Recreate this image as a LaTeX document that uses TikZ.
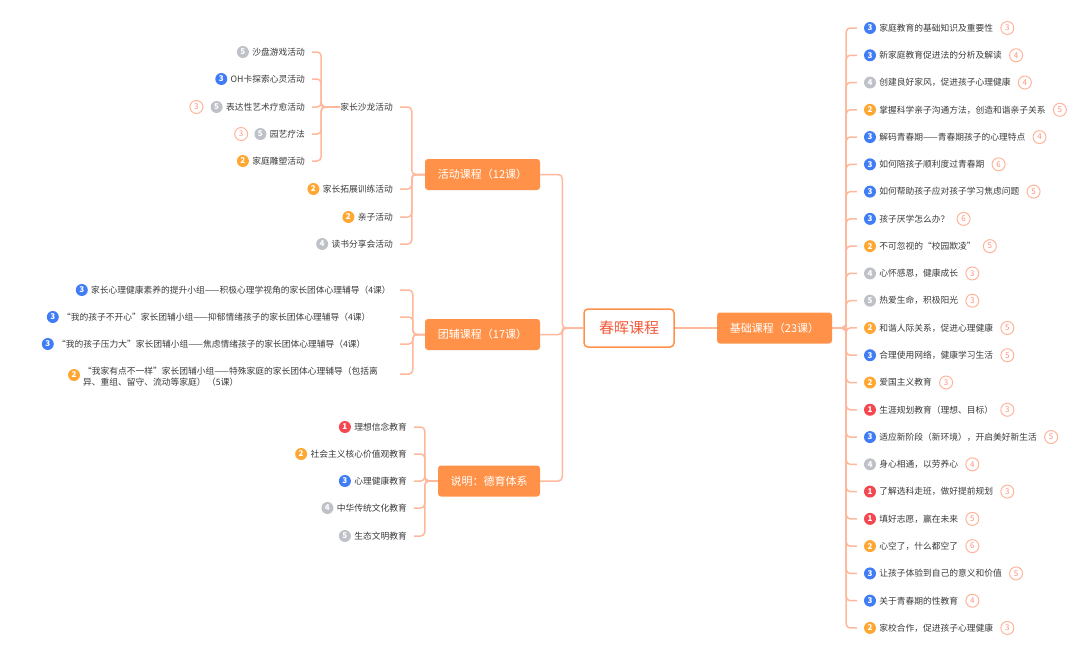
\documentclass[tikz,border=0pt]{standalone}
\usepackage{fontspec}
\setmainfont{Noto Sans CJK SC}
\usetikzlibrary{positioning}

\definecolor{mapline}{HTML}{FFB89C}
\definecolor{mapbox}{HTML}{FF9248}
\definecolor{maproot}{HTML}{F25A3C}
\definecolor{maptext}{HTML}{3A3A3A}
\definecolor{cntline}{HTML}{FFB49A}
\definecolor{bc1}{HTML}{F5474F}
\definecolor{bc2}{HTML}{FFA733}
\definecolor{bc3}{HTML}{3F7CF6}
\definecolor{bc4}{HTML}{BEC2C8}
\definecolor{bc5}{HTML}{BEC2C8}

\tikzset{
  link/.style={draw=mapline, line width=1.5pt, rounded corners=4pt},
  tick/.style={link, shorten >=7pt},
  rootbox/.style={draw=mapbox, line width=1.5pt, fill=white, rounded corners=4pt,
    minimum width=90pt, minimum height=38pt, text=maproot, font=\fontsize{15}{15}\selectfont},
  topic/.style={fill=mapbox, rounded corners=3pt, minimum height=31pt, minimum width=115pt,
    text=white, font=\fontsize{11}{11}\selectfont, inner xsep=0pt},
  leaf/.style={inner sep=0pt, text=maptext, font=\fontsize{8.75}{11}\selectfont},
  badge/.style={circle, fill=bc#1, text=white, inner sep=0pt, minimum size=12pt,
    font=\fontsize{8}{8}\selectfont\bfseries},
  cnt/.style={circle, draw=cntline, line width=1pt, text=cntline!80!red, inner sep=0pt,
    minimum size=13pt, font=\fontsize{8}{8}\selectfont},
}

\begin{document}
\begin{tikzpicture}[x=1pt, y=-1pt]
	\useasboundingbox (0,0) rectangle (1080,648);

	% Root and main topics
	\node [rootbox] 				(root) 	at (629,328) 	{春晖课程};
	\node [topic] 					(jc) 	at (774.5,328) 	{基础课程（23课）};
	\node [topic] 					(act) 	at (482.5,174.5) {活动课程（12课）};
	\node [topic] 					(grp) 	at (482.5,334.5) {团辅课程（17课）};
	\node [topic, minimum width=102pt] (moral) at (489,481) {说明：德育体系};

	\draw [link] (root.east) -- (jc.west);
	\draw [link] (root.west) -- ++(-21,0) |- (act.east);
	\draw [link] (root.west) -- ++(-21,0) |- (grp.east);
	\draw [link] (root.west) -- ++(-21,0) |- (moral.east);

	% 基础课程
	\foreach \n/\t/\c [count=\i] in {
		3/家庭教育的基础知识及重要性/3,
		3/新家庭教育促进法的分析及解读/4,
		4/创建良好家风，促进孩子心理健康/4,
		2/掌握科学亲子沟通方法，创造和谐亲子关系/5,
		3/解码青春期——青春期孩子的心理特点/4,
		3/如何陪孩子顺利度过青春期/6,
		3/如何帮助孩子应对孩子学习焦虑问题/5,
		3/孩子厌学怎么办？/6,
		2/不可忽视的“校园欺凌”/5,
		4/心怀感恩，健康成长/3,
		5/热爱生命，积极阳光/3,
		2/和谐人际关系，促进心理健康/5,
		3/合理使用网络，健康学习生活/5,
		2/爱国主义教育/3,
		1/生涯规划教育（理想、目标）/3,
		3/适应新阶段（新环境），开启美好新生活/5,
		4/身心相通，以劳养心/4,
		1/了解选科走班，做好提前规划/3,
		1/填好志愿，赢在未来/5,
		2/心空了，什么都空了/6,
		3/让孩子体验到自己的意义和价值/5,
		3/关于青春期的性教育/4,
		2/家校合作，促进孩子心理健康/3} {
		\node [badge=\n] 				(r\i) 	at (870,{28+27.27*(\i-1)}) {\n};
		\node [leaf, right=3pt of r\i] 	(rt\i) 	{\t};
		\node [cnt, right=7pt of rt\i] 	(rc\i) 	{\c};
		\draw [tick] (jc.east) -- ++(14,0) |- (r\i.west);
	}

	% 活动课程
	\node [leaf, anchor=east] (salon) 	at (393,107) {家长沙龙活动};
	\node [leaf, anchor=east] (expand) 	at (393,189) {家长拓展训练活动};
	\node [leaf, anchor=east] (family) 	at (393,217) {亲子活动};
	\node [leaf, anchor=east] (books) 	at (393,244) {读书分享会活动};
	\node [badge=2, left=3pt of expand] (expandb) {2};
	\node [badge=2, left=3pt of family] (familyb) {2};
	\node [badge=4, left=3pt of books] 	(booksb) 	{4};
	\foreach \k in {salon, expand, family, books}
		\draw [tick] (act.west) -- ++(-13,0) |- (\k.east);

	% 家长沙龙活动
	\foreach \n/\t/\y [count=\i] in {
		5/沙盘游戏活动/52,
		3/OH卡探索心灵活动/79,
		5/表达性艺术疗愈活动/107,
		5/园艺疗法/134,
		2/家庭雕塑活动/161} {
		\node [leaf, anchor=east] 		(s\i) 	at (305,\y) {\t};
		\node [badge=\n, left=3pt of s\i] (sb\i) {\n};
		\draw [tick] (salon.west) -- ++(-19,0) |- (s\i.east);
	}
	\node [cnt, left=7pt of sb3] (sc3) {3};
	\node [cnt, left=6pt of sb4] (sc4) {3};

	% 团辅课程
	\node [leaf, anchor=west] (g1) at (91,290) {家长心理健康素养的提升小组——积极心理学视角的家长团体心理辅导（4课）};
	\node [leaf, anchor=west] (g2) at (62,317) {“我的孩子不开心”家长团辅小组——抑郁情绪孩子的家长团体心理辅导（4课）};
	\node [leaf, anchor=west] (g3) at (57,344) {“我的孩子压力大”家长团辅小组——焦虑情绪孩子的家长团体心理辅导（4课）};
	\node [leaf, anchor=west, align=left] (g4) at (83,377) {“我家有点不一样”家长团辅小组——特殊家庭的家长团体心理辅导（包括离\\异、重组、留守、流动等家庭）\,（5课）};
	\node [badge=3, left=3pt of g1] (gb1) {3};
	\node [badge=3, left=3pt of g2] (gb2) {3};
	\node [badge=3, left=3pt of g3] (gb3) {3};
	\node [badge=2] (gb4) at (74,375) {2};
	\coordinate (ge1) at (400,290);
	\coordinate (ge2) at (400,317);
	\coordinate (ge3) at (400,344);
	\coordinate (ge4) at (400,374);
	\foreach \i in {1,...,4}
		\draw [link] (grp.west) -- ++(-12,0) |- (ge\i);

	% 说明：德育体系
	\foreach \n/\t/\y [count=\i] in {
		1/理想信念教育/427,
		2/社会主义核心价值观教育/454,
		3/心理健康教育/481,
		4/中华传统文化教育/508,
		5/生态文明教育/536} {
		\node [leaf, anchor=east] 		(m\i) 	at (407,\y) {\t};
		\node [badge=\n, left=3pt of m\i] (mb\i) {\n};
		\draw [tick] (moral.west) -- ++(-13,0) |- (m\i.east);
	}
\end{tikzpicture}
\end{document}
